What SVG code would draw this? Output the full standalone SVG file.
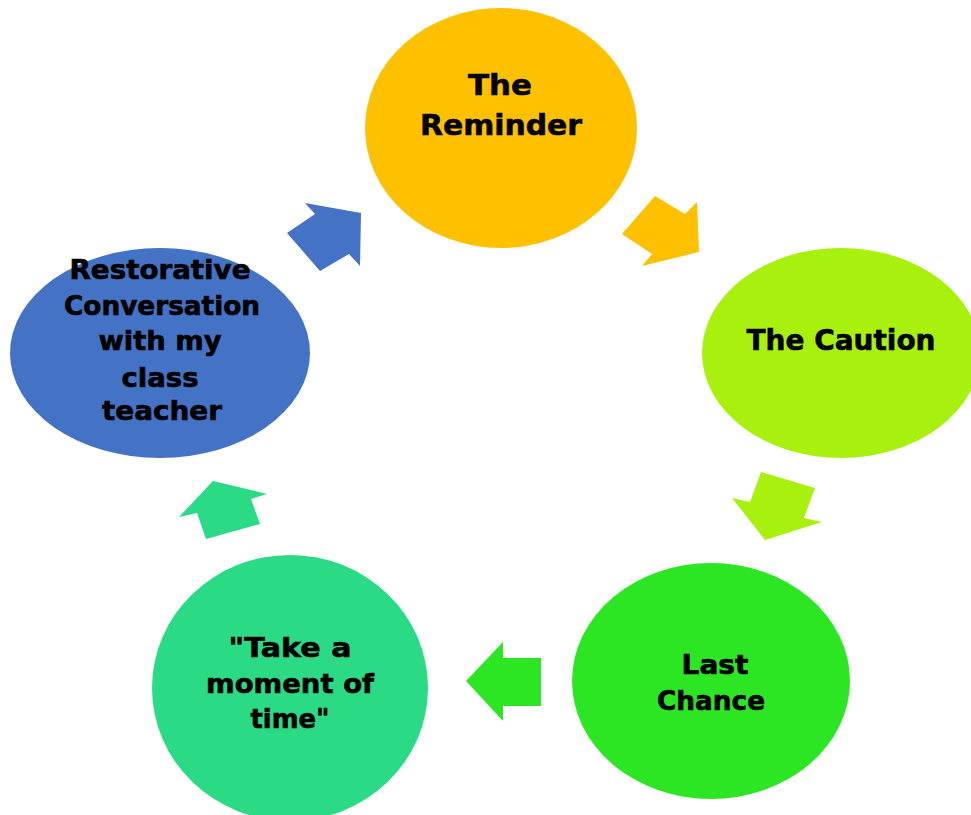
<svg xmlns="http://www.w3.org/2000/svg" width="971" height="815" viewBox="0 0 971 815">
<style>
.lbl{font-family:"Comic Sans MS","DejaVu Sans","Liberation Sans",sans-serif;font-weight:bold;fill:#000;stroke:#000;stroke-width:0.6;text-anchor:middle}
.s1{font-size:29px}
.s2{font-size:27px}
.s3{font-size:26px}
</style>
<rect width="971" height="815" fill="#ffffff"/>
<g id="connectors">
<polygon fill="#4472C4" points="305,203 361,213 360,266 349,254 320,271 287,233 315,214"/>
<polygon fill="#FFC000" points="655,196 685,214 697,202 699,252 642,266 652,254 622,234"/>
<polygon fill="#A8F10F" points="761,472 815,488 804,518 822,522 765,540 732,498 750,502"/>
<polygon fill="#2DE623" points="466,681 503,642 503,658 541,658 541,706 503,706 503,721"/>
<polygon fill="#2BDA84" points="213,481 267,494 251,499 260,524 206,539 197,513 179,517"/>
</g>
<g id="node-reminder">
<ellipse cx="501" cy="128" rx="136" ry="120" fill="#FFC000"/>
<text class="lbl s1" x="500" y="95" textLength="64" lengthAdjust="spacingAndGlyphs">The</text>
<text class="lbl s1" x="501" y="135" textLength="162" lengthAdjust="spacingAndGlyphs">Reminder</text>
</g>
<g id="node-caution">
<ellipse cx="841" cy="353" rx="139" ry="105" fill="#A8F10F"/>
<text class="lbl s1" x="841" y="350" textLength="189" lengthAdjust="spacingAndGlyphs">The Caution</text>
</g>
<g id="node-last">
<ellipse cx="711" cy="681" rx="139" ry="118" fill="#2DE623"/>
<text class="lbl s2" x="715" y="674" textLength="67" lengthAdjust="spacingAndGlyphs">Last</text>
<text class="lbl s2" x="711" y="710" textLength="108" lengthAdjust="spacingAndGlyphs">Chance</text>
</g>
<g id="node-take">
<ellipse cx="290" cy="688" rx="138" ry="133" fill="#2BDA84"/>
<text class="lbl s2" x="290" y="657" textLength="123" lengthAdjust="spacingAndGlyphs">"Take a</text>
<text class="lbl s2" x="290" y="693" textLength="168" lengthAdjust="spacingAndGlyphs">moment of</text>
<text class="lbl s2" x="290" y="728" textLength="79" lengthAdjust="spacingAndGlyphs">time"</text>
</g>
<g id="node-restorative">
<ellipse cx="160" cy="353" rx="150" ry="105" fill="#4472C4"/>
<text class="lbl s3" x="160" y="279" textLength="181" lengthAdjust="spacingAndGlyphs">Restorative</text>
<text class="lbl s3" x="162" y="315" textLength="196" lengthAdjust="spacingAndGlyphs">Conversation</text>
<text class="lbl s3" x="160" y="350" textLength="123" lengthAdjust="spacingAndGlyphs">with my</text>
<text class="lbl s3" x="160" y="387" textLength="77" lengthAdjust="spacingAndGlyphs">class</text>
<text class="lbl s3" x="162" y="420" textLength="120" lengthAdjust="spacingAndGlyphs">teacher</text>
</g>
</svg>
